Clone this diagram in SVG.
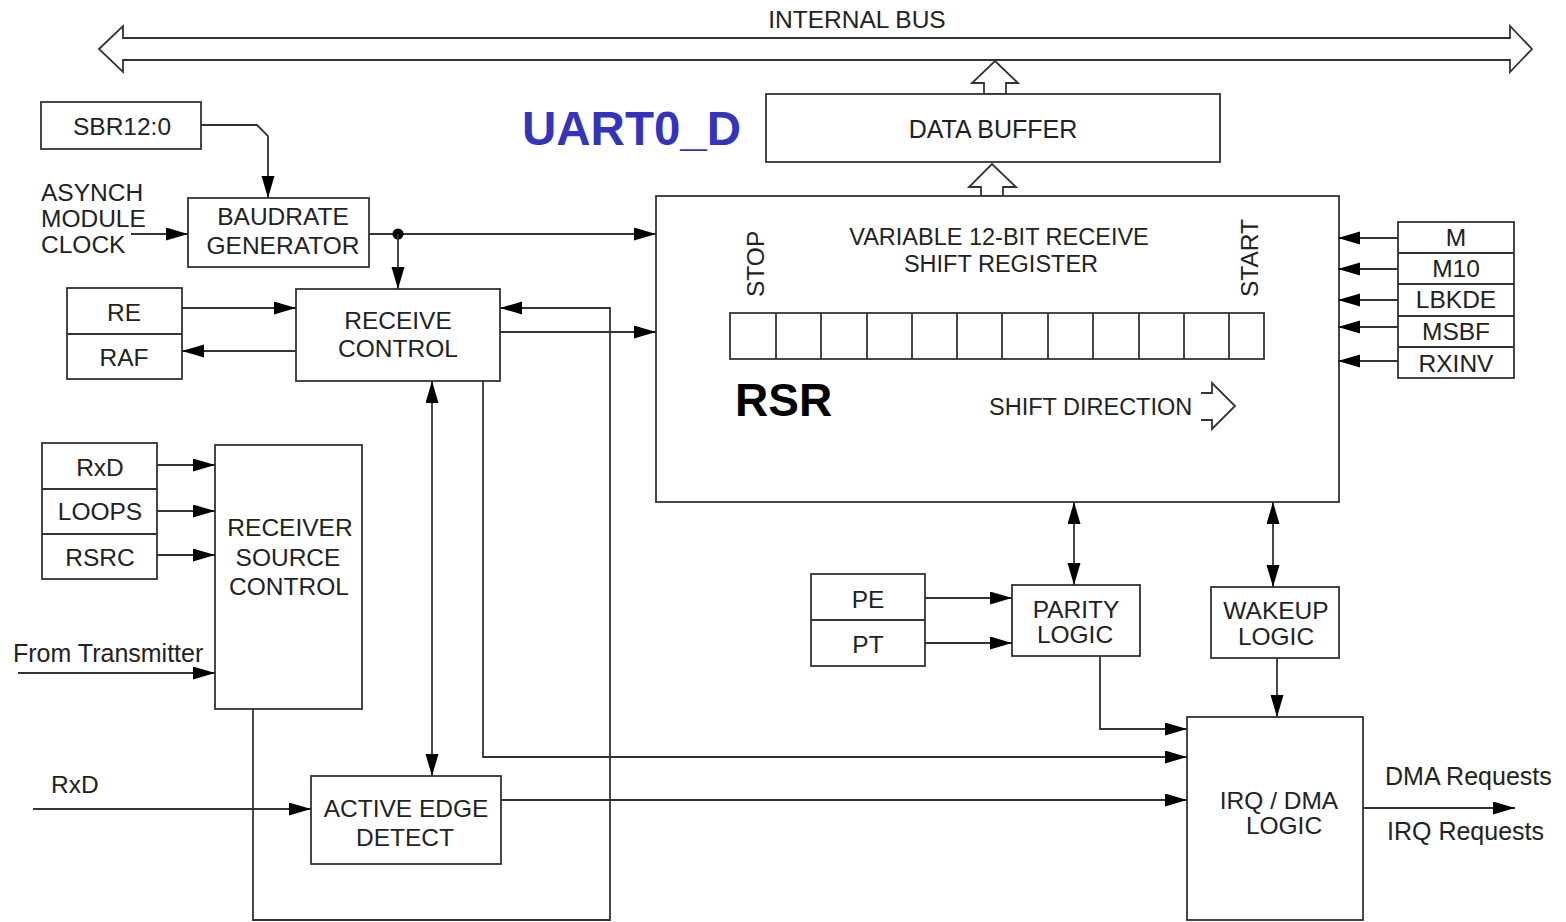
<svg xmlns="http://www.w3.org/2000/svg" width="1566" height="922" viewBox="0 0 1566 922">
<style>
.box{fill:#fff;stroke:#333;stroke-width:1.8}
.ln{fill:none;stroke:#333;stroke-width:1.8}
.t{font-family:"Liberation Sans",Arial,sans-serif;font-size:24.5px;fill:#222}
.lc{font-size:25px}
.m{text-anchor:middle}
.hollow{fill:#fff;stroke:#333;stroke-width:1.8;stroke-linejoin:miter}
</style>
<defs>
<marker id="ah" markerUnits="userSpaceOnUse" markerWidth="24" markerHeight="14" refX="22" refY="6.5" orient="auto-start-reverse">
<path d="M0,0 L22,6.5 L0,13 z" fill="#000"/>
</marker>
</defs>
<rect width="1566" height="922" fill="#fff"/>

<g id="internal-bus">
<polygon class="hollow" points="99,49 123,26 123,38 1510,38 1510,26 1532,49 1510,72 1510,60 123,60 123,72"/>
<text class="t m" x="857" y="28">INTERNAL BUS</text>
</g>

<g id="bus-arrows">
<polygon class="hollow" points="984,94 984,83 972,83 995,61 1018,83 1006,83 1006,94"/>
<polygon class="hollow" points="981,196 981,187 969,187 992,164 1016,187 1003,187 1003,196"/>
</g>

<g id="title">
<text x="522" y="145" font-family="'Liberation Sans',Arial,sans-serif" font-size="47.5" font-weight="bold" fill="#3333BB">UART0_D</text>
</g>

<g id="data-buffer">
<rect class="box" x="766" y="94" width="454" height="68"/>
<text class="t m" x="993" y="138" style="font-size:25px">DATA BUFFER</text>
</g>

<g id="sbr">
<rect class="box" x="41" y="102" width="160" height="47"/>
<text class="t m" x="122" y="135">SBR12:0</text>
</g>

<g id="asynch-clock">
<text class="t" x="41" y="201">ASYNCH</text>
<text class="t" x="41" y="227">MODULE</text>
<text class="t" x="41" y="253">CLOCK</text>
</g>

<g id="baudrate">
<rect class="box" x="188" y="198" width="181" height="69"/>
<text class="t m" x="283" y="225">BAUDRATE</text>
<text class="t m" x="283" y="254">GENERATOR</text>
</g>

<g id="re-raf">
<rect class="box" x="67" y="288" width="115" height="91"/>
<line class="ln" x1="67" y1="334" x2="182" y2="334"/>
<text class="t m" x="124" y="321">RE</text>
<text class="t m" x="124" y="366">RAF</text>
</g>

<g id="receive-control">
<rect class="box" x="296" y="289" width="204" height="92"/>
<text class="t m" x="398" y="329">RECEIVE</text>
<text class="t m" x="398" y="357">CONTROL</text>
</g>

<g id="rsr">
<rect class="box" x="656" y="196" width="683" height="306"/>
<text class="t m" x="999" y="245" style="font-size:23.5px">VARIABLE 12-BIT RECEIVE</text>
<text class="t m" x="1001" y="272" style="font-size:23.5px">SHIFT REGISTER</text>
<text class="t" transform="translate(764,297) rotate(-90)">STOP</text>
<text class="t" transform="translate(1258,297) rotate(-90)">START</text>
<g class="ln">
<rect x="730" y="313" width="534" height="46" fill="#fff"/>
<path d="M776,313V359M821,313V359M867,313V359M912,313V359M957,313V359M1002,313V359M1048,313V359M1093,313V359M1139,313V359M1184,313V359M1229,313V359"/>
</g>
<text x="735" y="416" font-family="'Liberation Sans',Arial,sans-serif" font-size="46" font-weight="bold" fill="#000">RSR</text>
<text class="t" x="989" y="415" style="font-size:23.5px">SHIFT DIRECTION</text>
<polyline class="ln" points="1201,393 1212,393 1212,383 1235,406 1212,429 1212,420 1201,420"/>
</g>

<g id="mode-bits">
<rect class="box" x="1398" y="222" width="116" height="156"/>
<path class="ln" d="M1398,253H1514M1398,284H1514M1398,316H1514M1398,347H1514"/>
<text class="t m" x="1456" y="246">M</text>
<text class="t m" x="1456" y="277">M10</text>
<text class="t m" x="1456" y="308">LBKDE</text>
<text class="t m" x="1456" y="340">MSBF</text>
<text class="t m" x="1456" y="372">RXINV</text>
</g>

<g id="rxd-loops-rsrc">
<rect class="box" x="42" y="443" width="115" height="136"/>
<path class="ln" d="M42,489H157M42,534H157"/>
<text class="t m" x="100" y="476">RxD</text>
<text class="t m" x="100" y="520">LOOPS</text>
<text class="t m" x="100" y="566">RSRC</text>
</g>

<g id="receiver-source-control">
<rect class="box" x="215" y="445" width="147" height="264"/>
<text class="t m" x="290" y="536">RECEIVER</text>
<text class="t m" x="288" y="566">SOURCE</text>
<text class="t m" x="289" y="595">CONTROL</text>
</g>

<g id="from-transmitter">
<text class="t lc" x="13" y="662">From Transmitter</text>
</g>

<g id="rxd-in">
<text class="t" x="51" y="793">RxD</text>
</g>

<g id="active-edge-detect">
<rect class="box" x="311" y="776" width="190" height="88"/>
<text class="t m" x="406" y="817">ACTIVE EDGE</text>
<text class="t m" x="405" y="846">DETECT</text>
</g>

<g id="pe-pt">
<rect class="box" x="811" y="574" width="114" height="92"/>
<line class="ln" x1="811" y1="620" x2="925" y2="620"/>
<text class="t m" x="868" y="608">PE</text>
<text class="t m" x="868" y="653">PT</text>
</g>

<g id="parity-logic">
<rect class="box" x="1012" y="585" width="128" height="71"/>
<text class="t m" x="1076" y="618">PARITY</text>
<text class="t m" x="1075" y="643">LOGIC</text>
</g>

<g id="wakeup-logic">
<rect class="box" x="1211" y="587" width="128" height="71"/>
<text class="t m" x="1276" y="619">WAKEUP</text>
<text class="t m" x="1276" y="645">LOGIC</text>
</g>

<g id="irq-dma-logic">
<rect class="box" x="1187" y="717" width="176" height="203"/>
<text class="t m" x="1279" y="809">IRQ / DMA</text>
<text class="t m" x="1284" y="834">LOGIC</text>
</g>

<g id="outputs">
<text class="t lc" x="1385" y="785">DMA Requests</text>
<text class="t lc" x="1387" y="840">IRQ Requests</text>
</g>

<g id="connectors" class="ln">
<path class="ln" d="M201,125H257L268,136V198" marker-end="url(#ah)"/>
<path class="ln" d="M131,234H188" marker-end="url(#ah)"/>
<path class="ln" d="M369,234H656" marker-end="url(#ah)"/>
<circle cx="398" cy="234" r="5.5" fill="#000" stroke="none"/>
<path class="ln" d="M398,234V289" marker-end="url(#ah)"/>
<path class="ln" d="M182,308H296" marker-end="url(#ah)"/>
<path class="ln" d="M296,351H182" marker-end="url(#ah)"/>
<path class="ln" d="M500,332H656" marker-end="url(#ah)"/>
<path class="ln" d="M253,709V920H610V308H500" marker-end="url(#ah)"/>
<path class="ln" d="M483,381V757H1187" marker-end="url(#ah)"/>
<path class="ln" d="M432,381V776" marker-start="url(#ah)" marker-end="url(#ah)"/>
<path class="ln" d="M157,465H215" marker-end="url(#ah)"/>
<path class="ln" d="M157,511H215" marker-end="url(#ah)"/>
<path class="ln" d="M157,555H215" marker-end="url(#ah)"/>
<path class="ln" d="M18,673H215" marker-end="url(#ah)"/>
<path class="ln" d="M33,809H311" marker-end="url(#ah)"/>
<path class="ln" d="M501,800H1187" marker-end="url(#ah)"/>
<path class="ln" d="M1074,502V585" marker-start="url(#ah)" marker-end="url(#ah)"/>
<path class="ln" d="M1273,502V587" marker-start="url(#ah)" marker-end="url(#ah)"/>
<path class="ln" d="M925,598H1012" marker-end="url(#ah)"/>
<path class="ln" d="M925,643H1012" marker-end="url(#ah)"/>
<path class="ln" d="M1100,656V729H1187" marker-end="url(#ah)"/>
<path class="ln" d="M1277,658V717" marker-end="url(#ah)"/>
<path class="ln" d="M1363,808H1515" marker-end="url(#ah)"/>
<path class="ln" d="M1398,238H1338" marker-end="url(#ah)"/>
<path class="ln" d="M1398,269H1338" marker-end="url(#ah)"/>
<path class="ln" d="M1398,300H1338" marker-end="url(#ah)"/>
<path class="ln" d="M1398,327H1338" marker-end="url(#ah)"/>
<path class="ln" d="M1398,361H1338" marker-end="url(#ah)"/>
</g>
</svg>
